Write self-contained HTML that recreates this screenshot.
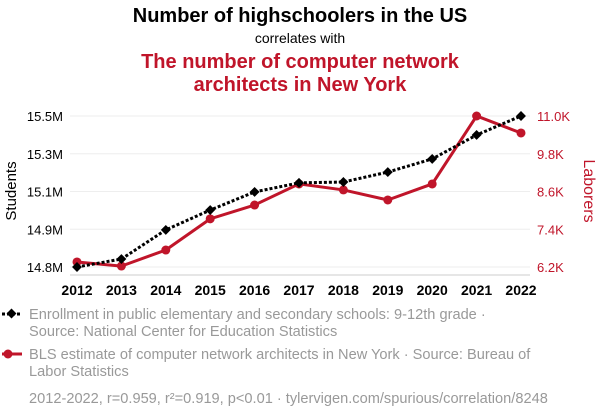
<!DOCTYPE html>
<html><head><meta charset="utf-8">
<style>
body{margin:0;background:#fff;font-family:"Liberation Sans",Arial,sans-serif;}
svg text{font-family:"Liberation Sans",Arial,sans-serif;}
</style></head>
<body>
<svg id="chart" width="600" height="414" viewBox="0 0 600 414" xmlns="http://www.w3.org/2000/svg">
<text x="300" y="22" text-anchor="middle" font-size="20" font-weight="bold" fill="#000">Number of highschoolers in the US</text>
<text x="300" y="43" text-anchor="middle" font-size="14" fill="#000">correlates with</text>
<text x="300" y="68" text-anchor="middle" font-size="20" font-weight="bold" fill="#c0152a">The number of computer network</text>
<text x="300" y="91" text-anchor="middle" font-size="20" font-weight="bold" fill="#c0152a">architects in New York</text>
<g id="grid"></g>
<g id="axes"></g>
<g id="series"></g>
<text transform="translate(16,191) rotate(-90)" text-anchor="middle" font-size="15" fill="#000">Students</text>
<text transform="translate(584,191) rotate(90)" text-anchor="middle" font-size="16" fill="#c0152a">Laborers</text>
<g>
<line x1="2" y1="314" x2="22" y2="314" stroke="#000" stroke-width="3" stroke-dasharray="3,2"/>
<rect x="8" y="310" width="7" height="7" transform="rotate(45 11.5 313.5)" fill="#000"/>
<text x="29" y="319" font-size="14.6" fill="#999">Enrollment in public elementary and secondary schools: 9-12th grade ·</text>
<text x="29" y="336" font-size="14.6" fill="#999">Source: National Center for Education Statistics</text>
</g>
<g>
<line x1="2" y1="354" x2="22" y2="354" stroke="#c0152a" stroke-width="3"/>
<circle cx="8" cy="354" r="4.5" fill="#c0152a"/>
<text x="29" y="359" font-size="14.6" fill="#999">BLS estimate of computer network architects in New York · Source: Bureau of</text>
<text x="29" y="376" font-size="14.6" fill="#999">Labor Statistics</text>
</g>
<text x="29" y="403" font-size="14.6" fill="#999">2012-2022, r=0.959, r²=0.919, p&lt;0.01 · tylervigen.com/spurious/correlation/8248</text>
</svg>
<script>
const years=[2012,2013,2014,2015,2016,2017,2018,2019,2020,2021,2022];
const students=[14.77,14.807,14.942,15.034,15.118,15.16,15.164,15.21,15.271,15.382,15.47];
const laborers=[6360,6230,6740,7730,8170,8840,8650,8330,8840,11000,10460];
const leftTicks=[14.77,14.945,15.12,15.295,15.47];
const leftLabels=["14.8M","14.9M","15.1M","15.3M","15.5M"];
const rightTicks=[6200,7400,8600,9800,11000];
const rightLabels=["6.2K","7.4K","8.6K","9.8K","11.0K"];
const NS="http://www.w3.org/2000/svg";
const x=v=>77+(v-2012)*(521-77)/10;
const yL=v=>267-(v-14.77)/(15.47-14.77)*151;
const yR=v=>267-(v-6200)/(11000-6200)*151;
function mk(t,a,p){const e=document.createElementNS(NS,t);for(const k in a)e.setAttribute(k,a[k]);p.appendChild(e);return e;}
const grid=document.getElementById('grid'),axes=document.getElementById('axes'),ser=document.getElementById('series');
leftTicks.forEach((t,i)=>{
 const g=mk('line',{x1:70,x2:530,y1:yL(t),y2:yL(t),stroke:'#eee','stroke-width':1},grid);
 
 
 const l=mk('text',{x:63,y:yL(t)+5,'text-anchor':'end','font-size':13,fill:'#000'},axes);l.textContent=leftLabels[i];
 
 
});
rightTicks.forEach((t,i)=>{
 const l=mk('text',{x:537,y:yR(t)+5,'text-anchor':'start','font-size':13,fill:'#c0152a'},axes);l.textContent=rightLabels[i];
 
 
});
const ax=mk('line',{x1:70,x2:530,y1:275,y2:275,stroke:'#ccc','stroke-width':1},axes);


years.forEach(yv=>{
 const l=mk('text',{x:x(yv),y:295,'text-anchor':'middle','font-size':14,'font-weight':'bold',fill:'#000'},axes);l.textContent=yv;
 
 
});
const rp=mk('polyline',{points:years.map((yv,i)=>x(yv)+','+yR(laborers[i])).join(' '),fill:'none',stroke:'#c0152a','stroke-width':3},ser);


years.forEach((yv,i)=>{const c=mk('circle',{cx:x(yv),cy:yR(laborers[i]),r:4.5,fill:'#c0152a'},ser);
 
 });
const bp=mk('polyline',{points:years.map((yv,i)=>x(yv)+','+yL(students[i])).join(' '),fill:'none',stroke:'#000','stroke-width':3,'stroke-dasharray':'3,2'},ser);


years.forEach((yv,i)=>{const cx=x(yv),cy=yL(students[i]);
 const d=mk('rect',{x:cx-3.5,y:cy-3.5,width:7,height:7,fill:'#000',transform:`rotate(45 ${cx} ${cy})`},ser);
 
 });
</script>
</body></html>
